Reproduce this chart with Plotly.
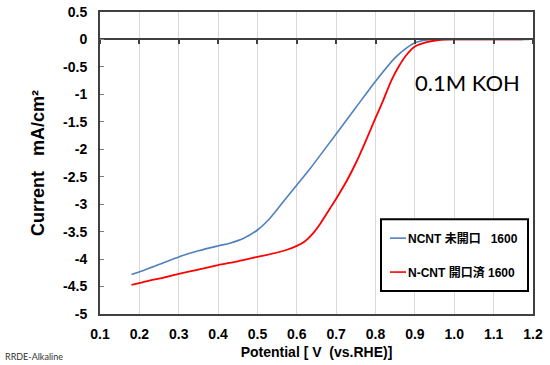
import plotly.graph_objects as go

# ---- data ----
potential_ncnt = [0.18, 0.22, 0.26, 0.30, 0.35, 0.40, 0.43, 0.465, 0.50, 0.53, 0.565, 0.60, 0.635,
                  0.70, 0.75, 0.80, 0.85, 0.88, 0.90, 0.93, 0.96, 1.00, 1.10, 1.19]
current_ncnt = [-4.28, -4.18, -4.07, -3.96, -3.85, -3.76, -3.71, -3.62, -3.47, -3.27, -2.96, -2.65, -2.34,
                -1.72, -1.24, -0.76, -0.33, -0.15, -0.06, -0.01, 0.0, 0.0, 0.0, 0.0]

potential_ncnt_open = [0.18, 0.22, 0.26, 0.30, 0.35, 0.40, 0.45, 0.50, 0.55, 0.575, 0.60, 0.62,
                       0.64, 0.66, 0.685, 0.70, 0.728, 0.75, 0.775, 0.80, 0.82, 0.84, 0.86, 0.88, 0.90,
                       0.93, 0.96, 1.00, 1.10, 1.175]
current_ncnt_open = [-4.47, -4.40, -4.34, -4.27, -4.19, -4.11, -4.04, -3.96, -3.88, -3.83, -3.76, -3.68,
                     -3.54, -3.35, -3.07, -2.90, -2.56, -2.25, -1.85, -1.43, -1.10, -0.75, -0.48,
                     -0.27, -0.13, -0.05, -0.01, 0.0, 0.0, 0.0]

series_names = ["NCNT 未開口   1600", "N-CNT 開口済 1600"]
series_colors = ["#4F81BD", "#FF0000"]

x_tick_vals = [0.1, 0.2, 0.3, 0.4, 0.5, 0.6, 0.7, 0.8, 0.9, 1.0, 1.1, 1.2]
x_tick_text = ["0.1", "0.2", "0.3", "0.4", "0.5", "0.6", "0.7", "0.8", "0.9", "1.0", "1.1", "1.2"]
y_tick_vals = [0.5, 0, -0.5, -1, -1.5, -2, -2.5, -3, -3.5, -4, -4.5, -5]
y_tick_text = ["0.5", "0", "-0.5", "-1", "-1.5", "-2", "-2.5", "-3", "-3.5", "-4", "-4.5", "-5"]

FONT = "Liberation Sans, Arial, Noto Sans CJK JP"

# plot area geometry in pixels (for paper-coordinate conversion of decorations)
L, R, T, B = 100, 533, 11.5, 314
def px(xp):
    return (xp - L) / (R - L)
def py(yp):
    return (B - yp) / (B - T)

fig = go.Figure()
fig.add_trace(go.Scatter(x=potential_ncnt, y=current_ncnt, mode="lines", name=series_names[0],
                         line=dict(color=series_colors[0], width=1.6, shape="spline", smoothing=0.8),
                         showlegend=False))
fig.add_trace(go.Scatter(x=potential_ncnt_open, y=current_ncnt_open, mode="lines", name=series_names[1],
                         line=dict(color=series_colors[1], width=1.8, shape="spline", smoothing=0.7),
                         showlegend=False))
# dummy trace to activate xaxis2 (tick marks on the zero line)
fig.add_trace(go.Scatter(x=[0.1], y=[0], xaxis="x2", mode="lines", showlegend=False,
                         hoverinfo="skip", line=dict(width=0)))

fig.update_layout(
    width=550, height=365,
    margin=dict(l=L, r=550 - R, t=T, b=365 - B),
    paper_bgcolor="white", plot_bgcolor="white",
    font=dict(family=FONT, color="black"),
    showlegend=False,
    xaxis=dict(range=[0.1, 1.2], tickvals=x_tick_vals, ticktext=x_tick_text, automargin=False,
               showgrid=True, gridcolor="#d9d9d9", gridwidth=1,
               showline=True, linecolor="#404040", linewidth=2, mirror=True,
               ticks="", zeroline=False, ticklabelstandoff=6,
               tickfont=dict(family=FONT, size=14, weight="bold"),
               title=dict(text="Potential [ V  (vs.RHE)]", standoff=6,
                          font=dict(family=FONT, size=14, weight="bold"))),
    xaxis2=dict(range=[0.1, 1.2], overlaying="x", anchor="free", position=py(39), automargin=False,
                tickvals=x_tick_vals, showticklabels=False, ticks="outside", ticklen=4,
                tickwidth=1.5, tickcolor="#404040",
                showline=True, linecolor="#404040", linewidth=1.5, showgrid=False,
                zeroline=False, side="bottom"),
    yaxis=dict(range=[-5, 0.5], tickvals=y_tick_vals, ticktext=y_tick_text, automargin=False,
               showgrid=False, zeroline=False,
               showline=True, linecolor="#404040", linewidth=2, mirror=True,
               ticks="inside", ticklen=4, tickcolor="#808080", ticklabelstandoff=8,
               tickfont=dict(family=FONT, size=14, weight="bold"),
               title=dict(text="Current   mA/cm²", standoff=14,
                          font=dict(family=FONT, size=18, weight="bold"))),
)

# legend box drawn manually to match the reference geometry
fig.add_shape(type="rect", xref="paper", yref="paper",
              x0=px(381), x1=px(528), y0=py(291), y1=py(219),
              line=dict(color="black", width=2), fillcolor="white", layer="above")
for i, (name, color) in enumerate(zip(series_names, series_colors)):
    yy = 238 + 34 * i
    fig.add_shape(type="line", xref="paper", yref="paper",
                  x0=px(390), x1=px(406), y0=py(yy), y1=py(yy),
                  line=dict(color=color, width=1.6), layer="above")
    fig.add_annotation(text=name, xref="paper", yref="paper", x=px(406), y=py(yy),
                       xanchor="left", yanchor="middle", showarrow=False,
                       font=dict(family=FONT, size=12, weight="bold", color="black"))

fig.add_annotation(text="0.1M KOH", xref="paper", yref="paper", x=px(413), y=py(82),
                   xanchor="left", yanchor="middle", showarrow=False,
                   font=dict(family="Lato, Liberation Sans", size=22, color="black"))
fig.add_annotation(text="RRDE-Alkaline", xref="paper", yref="paper", x=px(3), y=py(357),
                   xanchor="left", yanchor="middle", showarrow=False,
                   font=dict(family="Lato, Liberation Sans", size=9, color="#333333"))

fig.write_html("out.html", config={"displayModeBar": False},
               post_script="document.body.style.margin='0';document.body.style.padding='0';")
